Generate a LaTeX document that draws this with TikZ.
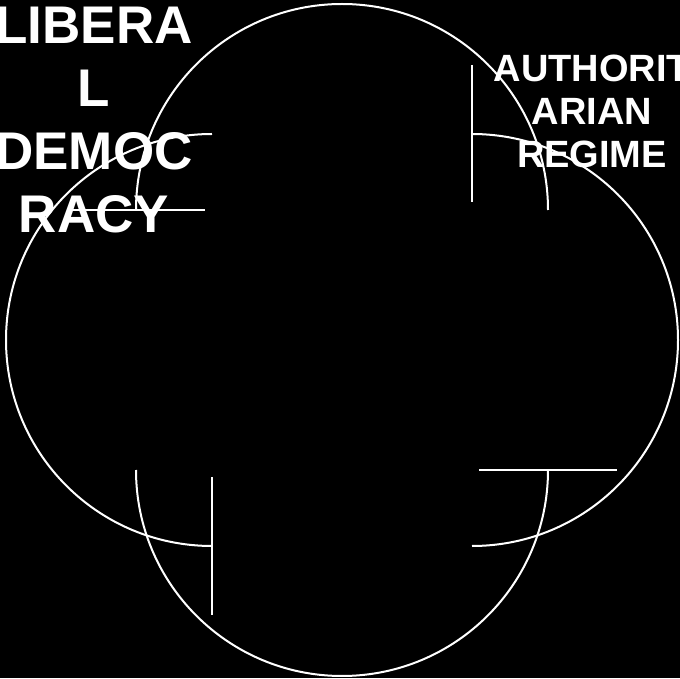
\documentclass[tikz,border=0pt]{standalone}
\usepackage{fontspec}
\setmainfont{Liberation Sans}
\usepackage{tikz}

\begin{document}
\begin{tikzpicture}[
    x=1pt, y=1pt,
    petal/.style={draw=white, line width=2pt},
    label/.style={text=white, align=center, inner sep=0pt, anchor=north, font=\bfseries}
]
\useasboundingbox (0,0) rectangle (680,678);
\clip (0,0) rectangle (680,678);
\fill[black] (0,0) rectangle (680,678);
% four half circles, each with a bar at its free end
\draw[petal] (136,468) arc[start angle=180, end angle=0, radius=206];
\draw[petal] (67,468) -- (205,468);
\draw[petal] (472,544) arc[start angle=90, end angle=-90, radius=206];
\draw[petal] (472,613) -- (472,476);
\draw[petal] (548,208) arc[start angle=0, end angle=-180, radius=206];
\draw[petal] (479,208) -- (617,208);
\draw[petal] (212,132) arc[start angle=-90, end angle=-270, radius=206];
\draw[petal] (212,201) -- (212,63);
% labels
\node[label, font=\bfseries\fontsize{53}{63}\selectfont] (liberal) at (94,671) {LIBERA\\L\\DEMOC\\RACY};
\node[label, font=\bfseries\fontsize{38}{43}\selectfont] (authoritarian) at (592,623) {AUTHORIT\\ARIAN\\REGIME};
\end{tikzpicture}
\end{document}
